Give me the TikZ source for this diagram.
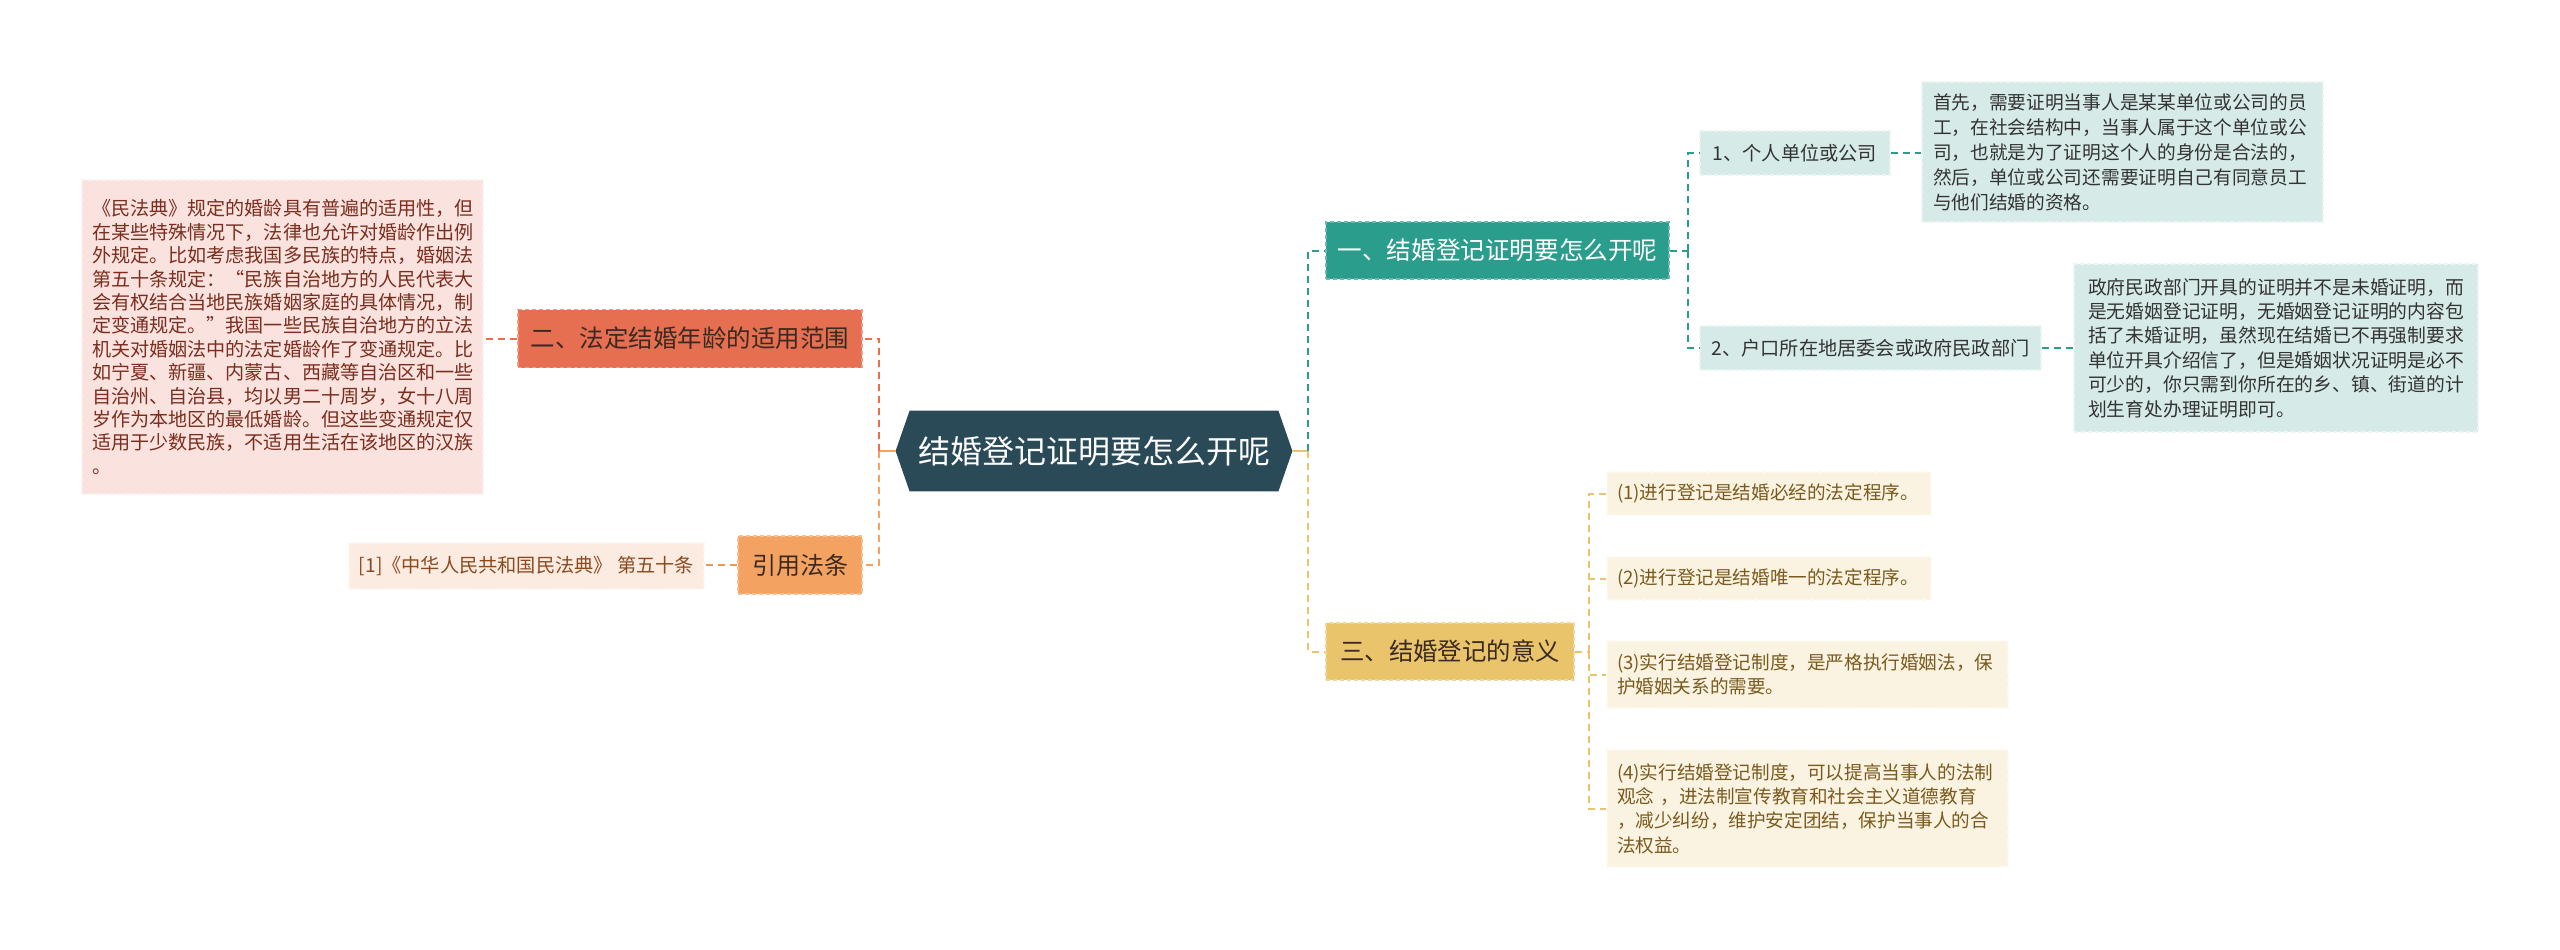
\documentclass[tikz,border=0pt]{standalone}
\usepackage{fontspec}
\newfontfamily\cjk{Noto Sans CJK SC}
\usetikzlibrary{backgrounds}
\definecolor{cDark}{HTML}{2B4A57}
\definecolor{cTeal}{HTML}{2A9D8C}
\definecolor{cTealL}{HTML}{D6EBE8}
\definecolor{cYel}{HTML}{E9C46A}
\definecolor{cYelL}{HTML}{FBF3E1}
\definecolor{cRed}{HTML}{E76F51}
\definecolor{cRedL}{HTML}{FAE2DE}
\definecolor{cOra}{HTML}{F4A261}
\definecolor{cOraL}{HTML}{FCEBE1}
\definecolor{tDark}{HTML}{333333}
\definecolor{tBrown}{HTML}{7A5A1E}
\definecolor{tRed}{HTML}{7B2E1E}
\definecolor{tOra}{HTML}{8B4A1E}
\definecolor{tHead}{HTML}{3A2A22}
\tikzset{
  base/.style={font=\cjk, inner sep=0pt, anchor=center},
  headT/.style={base, fill=cTeal, draw=cTeal!70!white, dash pattern=on 2pt off 1.5pt, line width=0.6pt},
  headY/.style={base, fill=cYel, draw=cYel!70!white, dash pattern=on 2pt off 1.5pt, line width=0.6pt},
  headR/.style={base, fill=cRed, draw=cRed!70!white, dash pattern=on 2pt off 1.5pt, line width=0.6pt},
  headO/.style={base, fill=cOra, draw=cOra!70!white, dash pattern=on 2pt off 1.5pt, line width=0.6pt},
  leafT/.style={base, fill=cTealL, draw=cTealL!50!white, dash pattern=on 2pt off 1.5pt, line width=0.6pt},
  leafY/.style={base, fill=cYelL, draw=cYelL!50!white, dash pattern=on 2pt off 1.5pt, line width=0.6pt},
  leafR/.style={base, fill=cRedL, draw=cRedL!50!white, dash pattern=on 2pt off 1.5pt, line width=0.6pt},
  leafO/.style={base, fill=cOraL, draw=cOraL!50!white, dash pattern=on 2pt off 1.5pt, line width=0.6pt},
  lnT/.style={draw=cTeal, line width=1pt, dash pattern=on 3.5pt off 2.5pt},
  lnY/.style={draw=cYel, line width=1pt, dash pattern=on 3.5pt off 2.5pt},
  lnR/.style={draw=cRed, line width=1pt, dash pattern=on 3.5pt off 2.5pt},
  lnO/.style={draw=cOra, line width=1pt, dash pattern=on 3.5pt off 2.5pt},
  lnC/.style={draw=cOra!75!brown, line width=1pt, dash pattern=on 3.5pt off 2.5pt},
  slO/.style={draw=cOra, line width=1.2pt},
  slY/.style={draw=cYel, line width=1.2pt}
}
\begin{document}
\begin{tikzpicture}[x=0.5pt,y=-0.5pt]
\useasboundingbox (0,0) rectangle (2560,949);

% center
\node[base, minimum width=184pt, minimum height=40pt, text=white, font=\cjk\fontsize{16pt}{19pt}\selectfont] (C) at (1094,451) {结婚登记证明要怎么开呢};
\coordinate (Cl) at ([xshift=-7pt]C.west);
\coordinate (Cr) at ([xshift=7pt]C.east);
\begin{scope}[on background layer]
\fill[white] (0,0) rectangle (2560,949);
\fill[cDark] (C.north west) -- (C.north east) -- (Cr) -- (C.south east) -- (C.south west) -- (Cl) -- cycle;
\end{scope}

% branch 1
\node[headT, minimum width=171.5pt, minimum height=28.5pt, text=white, font=\cjk\fontsize{12.3pt}{15pt}\selectfont] (B1) at (1497.5,250.5) {一、结婚登记证明要怎么开呢};
\node[leafT, minimum width=95pt, minimum height=22pt, text=tDark, font=\cjk\fontsize{9.6pt}{12pt}\selectfont] (S1) at (1795,153) {1、个人单位或公司};
\node[leafT, minimum width=170.5pt, minimum height=22pt, text=tDark, font=\cjk\fontsize{9.6pt}{12pt}\selectfont] (S2) at (1870.5,348) {2、户口所在地居委会或政府民政部门};
\node[leafT, minimum width=200.5pt, minimum height=70pt, text width=189.5pt, align=left, text=tDark, font=\cjk\fontsize{9.35pt}{12.5pt}\selectfont] (D1) at (2122.5,152) {首先，需要证明当事人是某某单位或公司的员\\工，在社会结构中，当事人属于这个单位或公\\司，也就是为了证明这个人的身份是合法的，\\然后，单位或公司还需要证明自己有同意员工\\与他们结婚的资格。};
\node[leafT, minimum width=202pt, minimum height=84pt, text width=188pt, align=left, text=tDark, font=\cjk\fontsize{9.4pt}{12.2pt}\selectfont] (D2) at (2276,348) {政府民政部门开具的证明并不是未婚证明，而\\是无婚姻登记证明，无婚姻登记证明的内容包\\括了未婚证明，虽然现在结婚已不再强制要求\\单位开具介绍信了，但是婚姻状况证明是必不\\可少的，你只需到你所在的乡、镇、街道的计\\划生育处办理证明即可。};

% branch 3
\node[headY, minimum width=124pt, minimum height=28.5pt, text=tHead, font=\cjk\fontsize{12.2pt}{15pt}\selectfont] (B3) at (1450,651.5) {三、结婚登记的意义};
\node[leafY, minimum width=162pt, minimum height=21.5pt, text width=152pt, align=left, text=tBrown, font=\cjk\fontsize{9.3pt}{12.2pt}\selectfont] (I1) at (1769,493.5) {(1)进行登记是结婚必经的法定程序。};
\node[leafY, minimum width=162pt, minimum height=21.5pt, text width=152pt, align=left, text=tBrown, font=\cjk\fontsize{9.3pt}{12.2pt}\selectfont] (I2) at (1769,578.5) {(2)进行登记是结婚唯一的法定程序。};
\node[leafY, minimum width=200.5pt, minimum height=33.5pt, text width=190.5pt, align=left, text=tBrown, font=\cjk\fontsize{9.3pt}{12.2pt}\selectfont] (I3) at (1807.5,674.5) {(3)实行结婚登记制度，是严格执行婚姻法，保\\护婚姻关系的需要。};
\node[leafY, minimum width=200.5pt, minimum height=58.5pt, text width=190.5pt, align=left, text=tBrown, font=\cjk\fontsize{9.3pt}{12.2pt}\selectfont] (I4) at (1807.5,808.5) {(4)实行结婚登记制度，可以提高当事人的法制\\观念 ，进法制宣传教育和社会主义道德教育\\，减少纠纷，维护安定团结，保护当事人的合\\法权益。};

% branch 2
\node[headR, minimum width=172pt, minimum height=29pt, text=tHead, font=\cjk\fontsize{12.25pt}{15pt}\selectfont] (B2) at (690,338.5) {二、法定结婚年龄的适用范围};
\node[leafR, minimum width=200.5pt, minimum height=157pt, text width=190.5pt, align=left, text=tRed, font=\cjk\fontsize{9.55pt}{11.7pt}\selectfont] (L) at (282.5,337) {《民法典》规定的婚龄具有普遍的适用性，但\\在某些特殊情况下，法律也允许对婚龄作出例\\外规定。比如考虑我国多民族的特点，婚姻法\\第五十条规定：“民族自治地方的人民代表大\\会有权结合当地民族婚姻家庭的具体情况，制\\定变通规定。”我国一些民族自治地方的立法\\机关对婚姻法中的法定婚龄作了变通规定。比\\如宁夏、新疆、内蒙古、西藏等自治区和一些\\自治州、自治县，均以男二十周岁，女十八周\\岁作为本地区的最低婚龄。但这些变通规定仅\\适用于少数民族，不适用生活在该地区的汉族\\。};

% reference branch
\node[headO, minimum width=62pt, minimum height=29pt, text=tHead, font=\cjk\fontsize{12pt}{15pt}\selectfont] (R) at (800,565) {引用法条};
\node[leafO, minimum width=177.5pt, minimum height=23pt, text=tOra, font=\cjk\fontsize{9.6pt}{12pt}\selectfont] (Cit) at (526.5,566) {[1]《中华人民共和国民法典》 第五十条};

% junctions
\coordinate (jl) at (879,451);
\coordinate (jr) at (1308,451);
\coordinate (j1) at (1688,250.5);
\coordinate (j3) at (1589,651.5);

% connectors left
\draw[slO] (Cl) -- (jl);
\draw[lnR] (jl) |- (B2.east);
\draw[lnO] (jl) |- (R.east);
\draw[lnR] (B2.west) -- (B2.west -| L.east);
\draw[lnC] (R.west) -- (R.west -| Cit.east);

% connectors right
\draw[slY] (Cr) -- (jr);
\draw[lnT] (jr) |- (B1.west);
\draw[lnY] (jr) |- (B3.west);
\draw[lnT] (B1.east) -- (j1);
\draw[lnT] (j1) |- (S1.west);
\draw[lnT] (j1) |- (S2.west);
\draw[lnT] (S1.east) -- (S1.east -| D1.west);
\draw[lnT] (S2.east) -- (S2.east -| D2.west);
\draw[lnY] (B3.east) -- (j3);
\draw[lnY] (j3) |- (I1.west);
\draw[lnY] (j3) |- (I2.west);
\draw[lnY] (j3) |- (I3.west);
\draw[lnY] (j3) |- (I4.west);
\end{tikzpicture}
\end{document}
